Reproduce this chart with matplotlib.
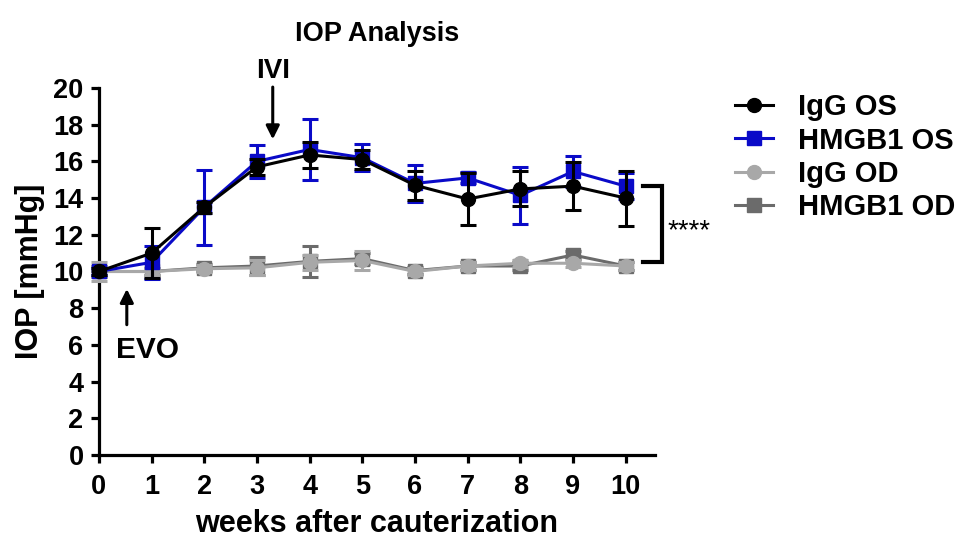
import matplotlib.pyplot as plt
from matplotlib.lines import Line2D
import numpy as np

plt.rcParams['font.family'] = ['Liberation Sans', 'DejaVu Sans']
plt.rcParams['font.weight'] = 'bold'

weeks = np.arange(0, 11)

igg_os = [10.0, 11.0, 13.5, 15.7, 16.35, 16.1, 14.7, 13.95, 14.5, 14.65, 14.0]
igg_os_err = [0.2, 1.35, 0.3, 0.45, 0.7, 0.5, 0.8, 1.4, 0.95, 1.3, 1.5]

hmgb1_os = [10.0, 10.5, 13.5, 16.0, 16.65, 16.2, 14.8, 15.1, 14.15, 15.45, 14.65]
hmgb1_os_err = [0.2, 0.9, 2.05, 0.9, 1.65, 0.75, 1.0, 0.3, 1.55, 0.85, 0.7]

igg_od = [10.0, 10.0, 10.15, 10.2, 10.5, 10.6, 10.0, 10.3, 10.45, 10.45, 10.3]
igg_od_err = [0.5, 0.2, 0.2, 0.4, 0.4, 0.5, 0.2, 0.2, 0.2, 0.2, 0.2]

hmgb1_od = [10.0, 10.0, 10.2, 10.3, 10.55, 10.7, 10.05, 10.3, 10.3, 10.9, 10.3]
hmgb1_od_err = [0.3, 0.2, 0.2, 0.5, 0.85, 0.3, 0.2, 0.2, 0.2, 0.2, 0.2]

series = [
    ("HMGB1 OD", hmgb1_od, hmgb1_od_err, '#6b6b6b', 's'),
    ("IgG OD", igg_od, igg_od_err, '#a8a8a8', 'o'),
    ("HMGB1 OS", hmgb1_os, hmgb1_os_err, '#0a0ac8', 's'),
    ("IgG OS", igg_os, igg_os_err, '#000000', 'o'),
]

fig = plt.figure(figsize=(9.6, 5.43), dpi=100)
ax = fig.add_axes([0.103, 0.162, 0.579, 0.676])

handles = {}
for i, (name, y, err, col, mk) in enumerate(series):
    h = ax.errorbar(weeks, y, yerr=err, color=col, marker=mk, markersize=10,
                    linewidth=2.2, elinewidth=2.2, capsize=6, capthick=2.2,
                    clip_on=False, zorder=3 + i)
    h.lines[0].set_clip_on(False)
    handles[name] = Line2D([], [], color=col, marker=mk, markersize=10, linewidth=2.2)

ax.set_xlim(0, 10.55)
ax.set_ylim(0, 20)
ax.set_xticks(weeks)
ax.set_yticks(np.arange(0, 21, 2))
ax.spines['top'].set_visible(False)
ax.spines['right'].set_visible(False)
for s in ['left', 'bottom']:
    ax.spines[s].set_linewidth(2.3)
ax.tick_params(width=2.3, length=6, labelsize=19.5, pad=5)
ax.tick_params(axis='x', pad=8)
for lab in ax.get_xticklabels() + ax.get_yticklabels():
    lab.set_fontweight('bold')

ax.set_xlabel('weeks after cauterization', fontsize=22, fontweight='bold', labelpad=6)
ax.set_ylabel('IOP [mmHg]', fontsize=22, fontweight='bold', labelpad=6)
ax.set_title('IOP Analysis', fontsize=19.5, fontweight='bold', pad=34, x=0.5)

# IVI arrow
ax.annotate('', xy=(3.3, 17.05), xytext=(3.3, 20.2),
            arrowprops=dict(arrowstyle='-|>', color='black', lw=2.2, mutation_scale=20),
            annotation_clip=False)
ax.text(3.3, 20.2, 'IVI', ha='center', va='bottom', fontsize=20, fontweight='bold')

# EVO arrow
ax.annotate('', xy=(0.53, 9.2), xytext=(0.53, 6.95),
            arrowprops=dict(arrowstyle='-|>', color='black', lw=2.2, mutation_scale=20),
            annotation_clip=False)
ax.text(0.32, 6.5, 'EVO', ha='left', va='top', fontsize=21.5, fontweight='bold')

# significance bracket
bx0, bx1 = 10.33, 10.68
ax.plot([bx0, bx1, bx1, bx0], [14.66, 14.66, 10.5, 10.5], color='black', lw=3,
        clip_on=False, solid_joinstyle='miter')
ax.text(10.8, 12.2, '****', ha='left', va='center', fontsize=20, fontweight='normal')

order = ["IgG OS", "HMGB1 OS", "IgG OD", "HMGB1 OD"]
fig.legend([handles[n] for n in order], order, loc='upper left',
           bbox_to_anchor=(0.766, 0.828), frameon=False, borderpad=0, borderaxespad=0,
           handlelength=1.3, labelspacing=0.18, handletextpad=0.85,
           prop={'weight': 'bold', 'size': 21})

fig.savefig('out.png', dpi=100)
